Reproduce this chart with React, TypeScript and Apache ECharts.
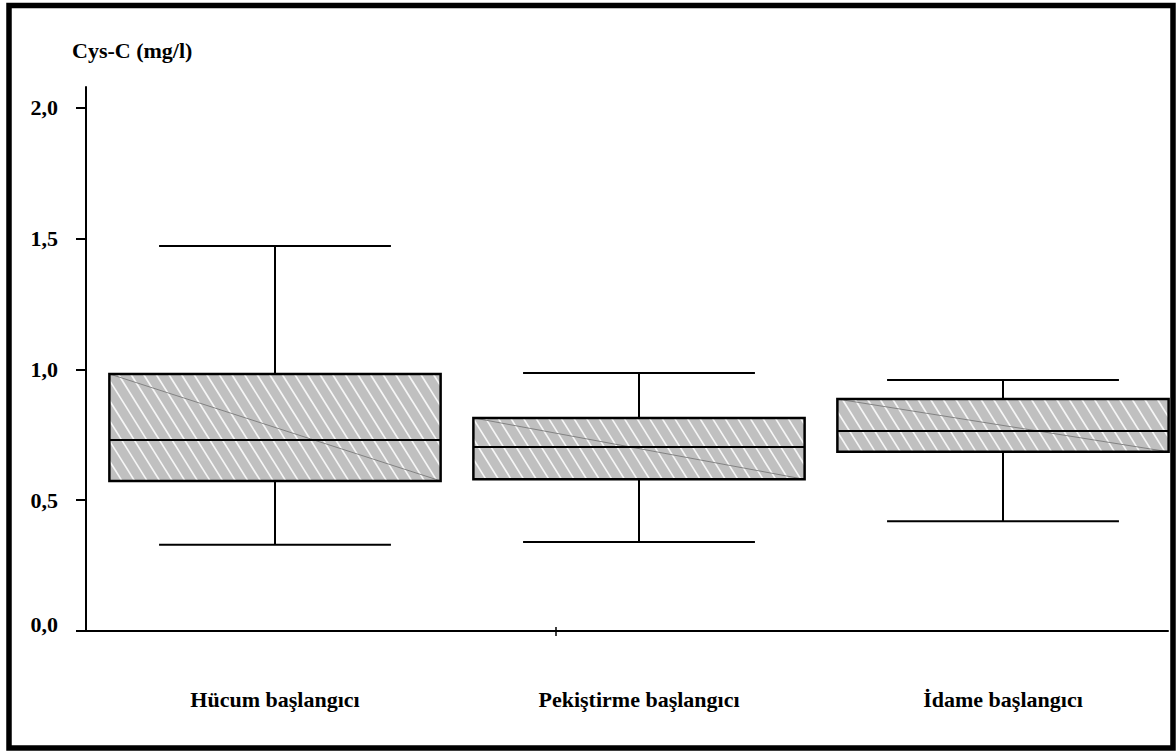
import React, { useEffect, useRef } from "react";
import * as echarts from "echarts";

const CATEGORIES = ["Hücum başlangıcı", "Pekiştirme başlangıcı", "İdame başlangıcı"];
const WHISKER_LOW = [0.33, 0.34, 0.42];
const Q1 = [0.574, 0.58, 0.685];
const MEDIAN = [0.73, 0.704, 0.765];
const Q3 = [0.983, 0.815, 0.887];
const WHISKER_HIGH = [1.472, 0.987, 0.96];
const Y_TICKS = [0, 0.5, 1, 1.5, 2];

const FONT = "'Liberation Serif', 'Times New Roman', serif";
const Y_MAX = 2.0803;
// category band layout: band width 364 px, first band starts at x=93, plot runs to the page edge
const X_MIN = -0.5;
const X_MAX = -0.5 + 1083 / 364;

export default function App() {
  const ref = useRef<HTMLDivElement>(null);

  useEffect(() => {
    if (!ref.current) return;
    const chart = echarts.init(ref.current, null, { renderer: "svg" });

    const data = CATEGORIES.map((_, i) => [i, WHISKER_LOW[i], Q1[i], MEDIAN[i], Q3[i], WHISKER_HIGH[i]]);

    const renderItem = (params: any, api: any) => {
      const idx = api.value(0);
      const band = api.size([1, 0])[0];
      const cx = api.coord([idx, 0])[0];
      const yLo = api.coord([idx, api.value(1)])[1];
      const yQ1 = api.coord([idx, api.value(2)])[1];
      const yMed = api.coord([idx, api.value(3)])[1];
      const yQ3 = api.coord([idx, api.value(4)])[1];
      const yHi = api.coord([idx, api.value(5)])[1];
      const boxW = band * 0.91;
      const capW = band * 0.637;
      const x0 = cx - boxW / 2;
      const x1 = cx + boxW / 2;
      const h = yQ1 - yQ3;
      const black = { stroke: "#000", lineWidth: 2, fill: null };
      const children: any[] = [];
      children.push({
        type: "rect",
        shape: { x: x0, y: yQ3, width: boxW, height: h },
        style: { fill: "#c0c0c0", stroke: null },
      });
      // hatch stripes (downward diagonal)
      const k = 1.6;
      const step = 12.6;
      for (let c = x0 - h / k; c < x1; c += step) {
        let sx = c, sy = yQ3;
        let ex = c + h / k, ey = yQ3 + h;
        if (sx < x0) {
          sy = yQ3 + (x0 - c) * k;
          sx = x0;
        }
        if (ex > x1) {
          ey = yQ3 + (x1 - c) * k;
          ex = x1;
        }
        if (ey - sy < 0.5) continue;
        children.push({
          type: "line",
          shape: { x1: sx, y1: sy, x2: ex, y2: ey },
          style: { stroke: "#ffffff", lineWidth: 1.7, opacity: 0.85, fill: null },
        });
      }
      children.push({
        type: "line",
        shape: { x1: x0, y1: yQ3, x2: x1, y2: yQ1 },
        style: { stroke: "#7a7a7a", lineWidth: 0.9, fill: null },
      });
      children.push({
        type: "rect",
        shape: { x: x0, y: yQ3, width: boxW, height: h },
        style: { fill: null, stroke: "#000", lineWidth: 2.5 },
      });
      children.push({ type: "line", shape: { x1: x0, y1: yMed, x2: x1, y2: yMed }, style: black });
      children.push({ type: "line", shape: { x1: cx, y1: yHi, x2: cx, y2: yQ3 }, style: black });
      children.push({ type: "line", shape: { x1: cx, y1: yQ1, x2: cx, y2: yLo }, style: black });
      children.push({ type: "line", shape: { x1: cx - capW / 2, y1: yHi, x2: cx + capW / 2, y2: yHi }, style: black });
      children.push({ type: "line", shape: { x1: cx - capW / 2, y1: yLo, x2: cx + capW / 2, y2: yLo }, style: black });
      return { type: "group", children };
    };

    const option: any = {
      animation: false,
      backgroundColor: "#ffffff",
      title: {
        text: "Cys-C (mg/l)",
        left: 72,
        top: 39,
        padding: 0,
        textStyle: { fontFamily: FONT, fontWeight: "bold", fontSize: 22, color: "#000" },
      },
      grid: [
        { left: 86, top: 87, width: 1082, height: 544 },
        { left: 93, top: 87, width: 1083, height: 544 },
      ],
      xAxis: [
        {
          gridIndex: 0,
          type: "value",
          min: 0,
          max: 1,
          axisLine: { show: true, lineStyle: { color: "#000", width: 2 } },
          axisTick: { show: false },
          axisLabel: { show: false },
          splitLine: { show: false },
        },
        {
          gridIndex: 1,
          type: "value",
          min: X_MIN,
          max: X_MAX,
          axisLine: { show: false },
          axisTick: { show: false },
          axisLabel: {
            customValues: CATEGORIES.map((_, i) => i),
            formatter: (v: number) => CATEGORIES[Math.round(v)] ?? "",
            margin: 57,
            fontFamily: FONT,
            fontWeight: "bold",
            fontSize: 22,
            color: "#000",
          },
          splitLine: { show: false },
        },
      ],
      yAxis: [
        {
          gridIndex: 0,
          type: "value",
          min: 0,
          max: Y_MAX,
          axisLine: { show: true, lineStyle: { color: "#000", width: 2 } },
          axisTick: {
            show: true,
            length: 10,
            customValues: Y_TICKS,
            lineStyle: { color: "#000", width: 2 },
          },
          axisLabel: {
            customValues: Y_TICKS,
            margin: 28,
            fontFamily: FONT,
            fontWeight: "bold",
            fontSize: 22,
            color: "#000",
            formatter: (v: number) =>
              v === 0 ? "{z|" + v.toFixed(1).replace(".", ",") + "}" : v.toFixed(1).replace(".", ","),
            rich: {
              z: { fontFamily: FONT, fontWeight: "bold", fontSize: 22, color: "#000", padding: [0, 0, 14, 0] },
            },
          },
          splitLine: { show: false },
        },
        {
          gridIndex: 1,
          type: "value",
          min: 0,
          max: Y_MAX,
          show: false,
        },
      ],
      series: [
        {
          type: "custom",
          xAxisIndex: 1,
          yAxisIndex: 1,
          data,
          encode: { x: 0, y: [1, 2, 3, 4, 5] },
          renderItem,
          clip: false,
        },
      ],
      graphic: [
        {
          type: "rect",
          silent: true,
          shape: { x: 9, y: 5.5, width: 1164, height: 742.5 },
          style: { fill: "none", stroke: "#000", lineWidth: 5.5 },
        },
        {
          type: "line",
          silent: true,
          shape: { x1: 556, y1: 627, x2: 556, y2: 636 },
          style: { stroke: "#000", lineWidth: 1.5 },
        },
      ],
    };

    chart.setOption(option);
    return () => chart.dispose();
  }, []);

  return (
    <div
      ref={ref}
      style={{ position: "absolute", left: 0, top: 0, width: 1176, height: 751, background: "#fff" }}
    />
  );
}
